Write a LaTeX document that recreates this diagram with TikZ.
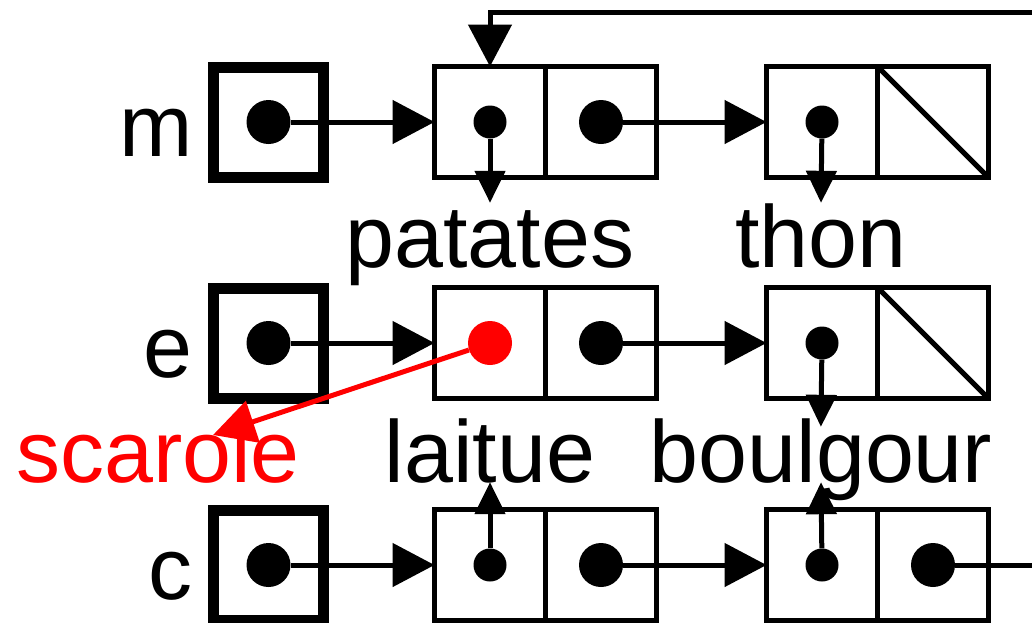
\documentclass[tikz,border=0pt]{standalone}
\usepackage{fontspec}
\setmainfont{Liberation Sans}
\usepackage{tikz}
\usetikzlibrary{arrows.meta}

\tikzset{
    varbox/.style={draw, line width=11pt, minimum size=110pt, inner sep=0pt, outer sep=0pt},
    cell/.style={draw, line width=5pt, minimum size=111pt, inner sep=0pt, outer sep=0pt},
    bigdot/.style={circle, fill, minimum size=44pt, inner sep=0pt},
    smalldot/.style={circle, fill, minimum size=33pt, inner sep=0pt},
    lbl/.style={font=\fontsize{88}{100}\selectfont, inner sep=0pt, text height=64pt, text depth=0pt},
    ptr/.style={line width=5pt, -{Triangle[length=42pt, width=43pt]}},
    sptr/.style={line width=5pt, -{Triangle[length=32pt, width=30pt]}},
}

\begin{document}
\begin{tikzpicture}[x=1pt, y=-1pt]
    \useasboundingbox (0, 0) rectangle (1032, 622);

    \node[lbl, anchor=base east] (m) at (193, 156) {m};
    \node[varbox] (VM) at (268.5, 122) {};
    \node[cell] (M1a) at (490, 122) {};
    \node[cell] (M1d) at (601, 122) {};
    \node[cell] (M2a) at (822, 122) {};
    \node[cell] (M2d) at (933, 122) {};
    \node[bigdot] (dM) at (VM) {};
    \node[smalldot] (pM1) at (M1a) {};
    \node[bigdot] (qM1) at (M1d) {};
    \node[smalldot] (pM2) at (M2a) {};
    \node[lbl, anchor=base] (patates) at (490, 267) {patates};
    \node[lbl, anchor=base] (thon) at (821, 267) {thon};

    \node[lbl, anchor=base east] (e) at (193, 377) {e};
    \node[varbox] (VE) at (268.5, 343) {};
    \node[cell] (E1a) at (490, 343) {};
    \node[cell] (E1d) at (601, 343) {};
    \node[cell] (E2a) at (822, 343) {};
    \node[cell] (E2d) at (933, 343) {};
    \node[bigdot] (dE) at (VE) {};
    \node[bigdot, red] (pE1) at (E1a) {};
    \node[bigdot] (qE1) at (E1d) {};
    \node[smalldot] (pE2) at (E2a) {};
    \node[lbl, anchor=base, red] (scarole) at (158, 482) {scarole};
    \node[lbl, anchor=base] (laitue) at (490, 482) {laitue};
    \node[lbl, anchor=base] (boulgour) at (821, 482) {boulgour};

    \node[lbl, anchor=base east] (c) at (193, 599) {c};
    \node[varbox] (VC) at (268.5, 565) {};
    \node[cell] (C1a) at (490, 565) {};
    \node[cell] (C1d) at (601, 565) {};
    \node[cell] (C2a) at (822, 565) {};
    \node[cell] (C2d) at (933, 565) {};
    \node[bigdot] (dC) at (VC) {};
    \node[smalldot] (pC1) at (C1a) {};
    \node[bigdot] (qC1) at (C1d) {};
    \node[smalldot] (pC2) at (C2a) {};
    \node[bigdot] (qC2) at (C2d) {};

    \coordinate (back) at (1040, 12);
    \coordinate (sc) at (213, 435);
    \coordinate (out) at (1040, 565);

    \draw[ptr] (dM) -- (M1a.west);
    \draw[ptr] (qM1) -- (M2a.west);
    \draw[sptr] (pM1) -- (patates.north);
    \draw[sptr] (pM2) -- (thon.north);
    \draw[line width=5pt] (M2d.north west) -- (M2d.south east);
    \draw[ptr] (back) -| (M1a.north);

    \draw[ptr] (dE) -- (E1a.west);
    \draw[ptr] (qE1) -- (E2a.west);
    \draw[ptr, red] (pE1) -- (sc);
    \draw[sptr, shorten >=-9pt] (pE2) -- (boulgour.north);
    \draw[line width=5pt] (E2d.north west) -- (E2d.south east);

    \draw[ptr] (dC) -- (C1a.west);
    \draw[ptr] (qC1) -- (C2a.west);
    \draw[sptr] (pC1) -- (laitue.south);
    \draw[sptr] (pC2) -- (boulgour.south);
    \draw[line width=5pt] (qC2) -- (out);
\end{tikzpicture}
\end{document}
